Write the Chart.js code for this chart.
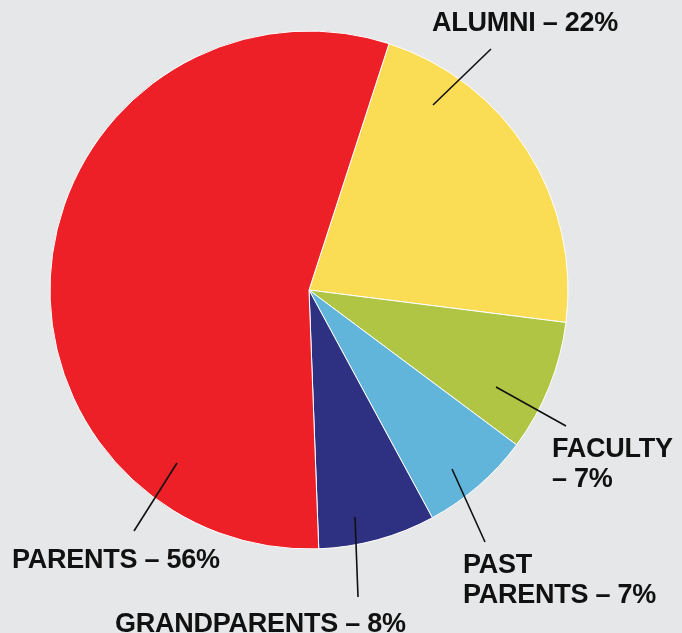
<!DOCTYPE html>
<html>
<head>
<meta charset="utf-8">
<script src="https://cdn.jsdelivr.net/npm/chart.js@4/dist/chart.umd.min.js"></script>
<style>
  html, body { margin: 0; padding: 0; background: #e6e7e8; }
  #wrap { width: 682px; height: 633px; position: relative; }
</style>
</head>
<body>
<div id="wrap"><canvas id="pie"></canvas></div>
<script>
// slices, clockwise from the top boundary
const categories = ['ALUMNI', 'FACULTY', 'PAST PARENTS', 'GRANDPARENTS', 'PARENTS'];
// share of the circle as drawn
const shares = [22, 8.2, 6.9, 7.3, 55.6];
// percentages printed in the labels
const printedPct = ['22%', '7%', '7%', '8%', '56%'];
const colors = ['#fadc55', '#b1c544', '#62b5da', '#2e3081', '#ed1f27'];

// label layout: leader line and text lines, offsets from the pie centre (px)
const callouts = [
  { line: [[124, -185], [182, -241]], text: [[123, -259, 'ALUMNI – ' + printedPct[0]]] },
  { line: [[187, 97], [257, 136]], text: [[243, 167, 'FACULTY'], [243, 197, '– ' + printedPct[1]]] },
  { line: [[143, 179], [176, 252]], text: [[154, 283, 'PAST'], [154, 313, 'PARENTS – ' + printedPct[2]]] },
  { line: [[46, 227], [49, 307]], text: [[-194, 342, 'GRANDPARENTS – ' + printedPct[3]]] },
  { line: [[-132, 173], [-175, 241]], text: [[-297, 278, 'PARENTS – ' + printedPct[4]]] },
];

const calloutPlugin = {
  id: 'callouts',
  afterDatasetsDraw(chart) {
    const { ctx } = chart;
    const arc = chart.getDatasetMeta(0).data[0];
    if (!arc) return;
    const cx = arc.x;
    const cy = arc.y;
    ctx.save();
    ctx.strokeStyle = '#111';
    ctx.lineWidth = 1.6;
    ctx.fillStyle = '#111';
    ctx.font = 'bold 27px "Liberation Sans", Arial, sans-serif';
    ctx.letterSpacing = '-0.25px';
    ctx.textBaseline = 'alphabetic';
    ctx.textAlign = 'left';
    callouts.forEach((c) => {
      ctx.beginPath();
      ctx.moveTo(cx + c.line[0][0], cy + c.line[0][1]);
      ctx.lineTo(cx + c.line[1][0], cy + c.line[1][1]);
      ctx.stroke();
      c.text.forEach(([dx, dy, str]) => ctx.fillText(str, cx + dx, cy + dy));
    });
    ctx.restore();
  },
};

new Chart(document.getElementById('pie'), {
  type: 'pie',
  data: {
    labels: categories,
    datasets: [{
      data: shares,
      backgroundColor: colors,
      borderColor: '#ffffff',
      borderWidth: 1,
      hoverOffset: 0,
    }],
  },
  options: {
    responsive: true,
    maintainAspectRatio: false,
    animation: false,
    rotation: 18,
    radius: 259,
    layout: { padding: { left: 0, right: 64, top: 0, bottom: 53 } },
    plugins: {
      legend: { display: false },
      tooltip: { enabled: false },
    },
  },
  plugins: [calloutPlugin],
});
</script>
</body>
</html>
